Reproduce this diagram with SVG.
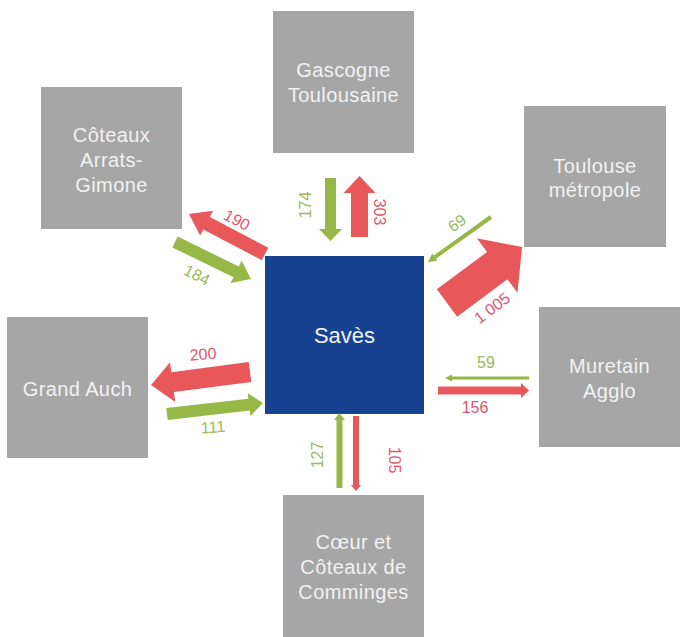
<svg xmlns="http://www.w3.org/2000/svg" width="680" height="637" viewBox="0 0 680 637">
<style>
.box{fill:#a6a6a6}
.center{fill:#174291}
.bt{font-family:"Liberation Sans",Arial,sans-serif;font-size:20px;fill:#f2f2f2;text-anchor:middle;letter-spacing:0.4px}
.ct{font-family:"Liberation Sans",Arial,sans-serif;font-size:22px;fill:#f2f2f2;text-anchor:middle}
.red{fill:#e8575a}
.green{fill:#96b847}
.lr{font-family:"Liberation Sans",Arial,sans-serif;font-size:16px;fill:#e0566a;text-anchor:middle}
.lg{font-family:"Liberation Sans",Arial,sans-serif;font-size:16px;fill:#9bb85c;text-anchor:middle}
</style>
<rect width="680" height="637" fill="#ffffff"/>
<g id="gascogne"><rect class="box" x="273" y="11" width="141" height="142"/><text class="bt" x="343.5" y="77">Gascogne</text><text class="bt" x="343.5" y="102">Toulousaine</text></g>
<g id="coteaux-arrats"><rect class="box" x="41" y="87" width="141" height="142"/><text class="bt" x="111.5" y="142">Côteaux</text><text class="bt" x="111.5" y="167">Arrats-</text><text class="bt" x="111.5" y="192">Gimone</text></g>
<g id="toulouse"><rect class="box" x="524" y="106" width="142" height="141"/><text class="bt" x="595" y="173">Toulouse</text><text class="bt" x="595" y="197">métropole</text></g>
<g id="saves"><rect class="center" x="265" y="256" width="159" height="158"/><text class="ct" x="344.5" y="343">Savès</text></g>
<g id="grand-auch"><rect class="box" x="7" y="317" width="141" height="141"/><text class="bt" x="77.5" y="396">Grand Auch</text></g>
<g id="muretain"><rect class="box" x="539" y="307" width="141" height="140"/><text class="bt" x="609.5" y="373">Muretain</text><text class="bt" x="609.5" y="398">Agglo</text></g>
<g id="comminges"><rect class="box" x="283" y="495" width="141" height="142"/><text class="bt" x="353.5" y="549">Cœur et</text><text class="bt" x="353.5" y="574">Côteaux de</text><text class="bt" x="353.5" y="599">Comminges</text></g>
<g id="connectors">
<polygon class="green" transform="translate(330.5,178) rotate(90)" points="0,-5.5 51,-5.5 51,-11.5 63,0 51,11.5 51,5.5 0,5.5"/>
<polygon class="red" transform="translate(359.5,237) rotate(-90)" points="0,-8.5 44,-8.5 44,-16 61,0 44,16 44,8.5 0,8.5"/>
<polygon class="red" transform="translate(265,254) rotate(207.8)" points="0,-7 66,-7 66,-14 86,0 66,14 66,7 0,7"/>
<polygon class="green" transform="translate(175,242) rotate(26)" points="0,-6 68,-6 68,-12.5 84.5,0 68,12.5 68,6 0,6"/>
<polygon class="green" transform="translate(491,217) rotate(144.5)" points="0,-2 69,-2 69,-4.5 77.4,0 69,4.5 69,2 0,2"/>
<polygon class="red" transform="translate(447,303) rotate(-36.7)" points="0,-17 62.6,-17 62.6,-34 93.6,0 62.6,34 62.6,17 0,17"/>
<polygon class="red" transform="translate(250,372) rotate(172.5)" points="0,-10 78,-10 78,-20 99.8,0 78,20 78,10 0,10"/>
<polygon class="green" transform="translate(167,414) rotate(-6.5)" points="0,-6 82.6,-6 82.6,-11.5 96.6,0 82.6,11.5 82.6,6 0,6"/>
<polygon class="green" transform="translate(529,378) rotate(180)" points="0,-1.5 77,-1.5 77,-3.5 84,0 77,3.5 77,1.5 0,1.5"/>
<polygon class="red" transform="translate(438,390.5) rotate(0)" points="0,-4 83,-4 83,-7.5 91,0 83,7.5 83,4 0,4"/>
<polygon class="green" transform="translate(339.5,488) rotate(-90)" points="0,-3 68,-3 68,-5.5 75,0 68,5.5 68,3 0,3"/>
<polygon class="red" transform="translate(356,416) rotate(90)" points="0,-3 69,-3 69,-5 75,0 69,5 69,3 0,3"/>
<text class="lg" transform="translate(305,205) rotate(-90)" dy="0.35em">174</text>
<text class="lr" transform="translate(380,212) rotate(90)" dy="0.35em">303</text>
<text class="lr" transform="translate(237,220) rotate(28)" dy="0.35em">190</text>
<text class="lg" transform="translate(197,275) rotate(28)" dy="0.35em">184</text>
<text class="lg" transform="translate(457,223) rotate(-36)" dy="0.35em">69</text>
<text class="lr" transform="translate(492,308) rotate(-37)" dy="0.35em">1 005</text>
<text class="lr" transform="translate(203,354) rotate(-5)" dy="0.35em">200</text>
<text class="lg" transform="translate(213,427) rotate(-4)" dy="0.35em">111</text>
<text class="lg" transform="translate(486,362)" dy="0.35em">59</text>
<text class="lr" transform="translate(475,407)" dy="0.35em">156</text>
<text class="lg" transform="translate(317,455) rotate(-90)" dy="0.35em">127</text>
<text class="lr" transform="translate(395,460) rotate(90)" dy="0.35em">105</text>
</g>
</svg>
